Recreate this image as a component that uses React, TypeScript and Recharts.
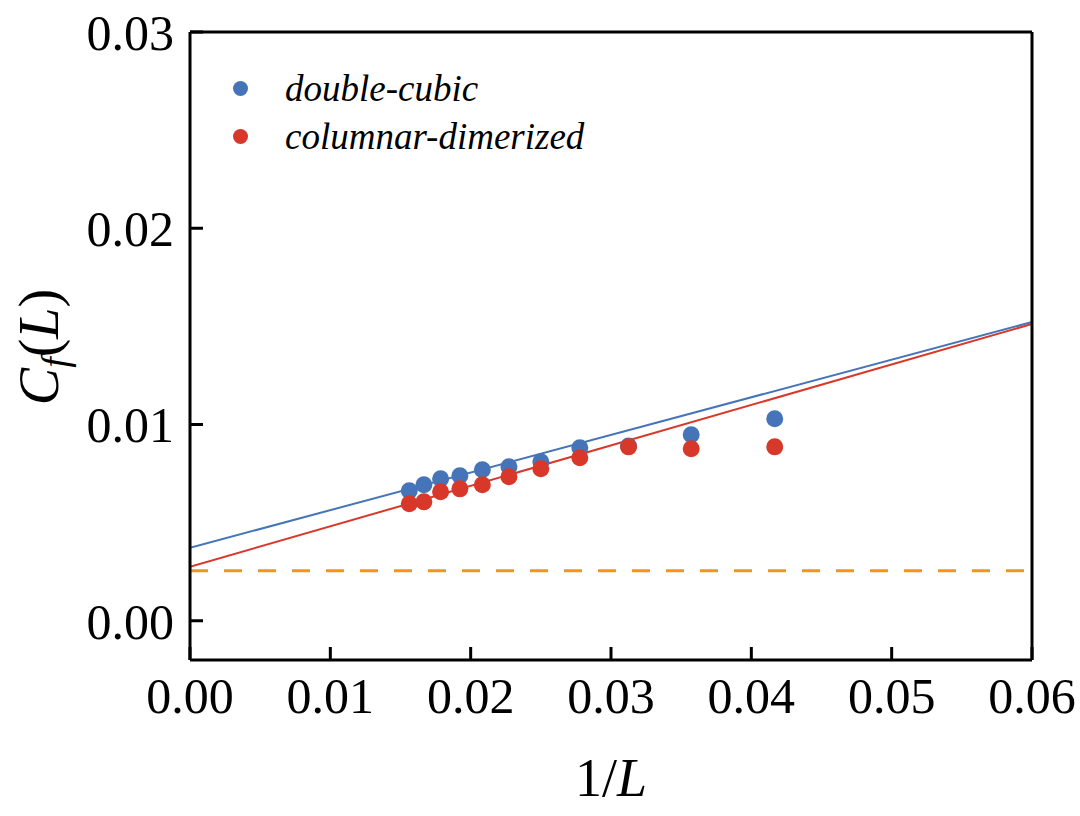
import React from "react";
import {
  ComposedChart,
  Scatter,
  Line,
  XAxis,
  YAxis,
  ReferenceLine,
  Legend,
  Label,
} from "recharts";

// 1/L for L = 64 ... 24
const invL = [0.015625, 0.016667, 0.017857, 0.019231, 0.020833, 0.022727, 0.025, 0.027778, 0.03125, 0.035714, 0.041667];
const doubleCubic = [0.00662, 0.00693, 0.00723, 0.00739, 0.00769, 0.00785, 0.0081, 0.00881, 0.0089, 0.00948, 0.01029];
const columnarDimerized = [0.00596, 0.00606, 0.00657, 0.00672, 0.00693, 0.00734, 0.00774, 0.0083, 0.00886, 0.00876, 0.00886];

// linear fits, values at 1/L = 0 and 1/L = 0.06
const fitX = [0, 0.06];
const fitDoubleCubic = [0.00372, 0.01522];
const fitColumnar = [0.00275, 0.01512];
const limitValue = 0.00255;

const xTicks = [0, 0.01, 0.02, 0.03, 0.04, 0.05, 0.06];
const yTicks = [0, 0.01, 0.02, 0.03];

const BLUE = "#4674b9";
const RED = "#d8382a";
const ORANGE = "#f0961e";
const FONT = "Liberation Serif";

const toPoints = (xs: number[], ys: number[]) => xs.map((x, i) => ({ x, y: ys[i] }));

const blueData = toPoints(invL, doubleCubic);
const redData = toPoints(invL, columnarDimerized);
const blueFit = toPoints(fitX, fitDoubleCubic);
const redFit = toPoints(fitX, fitColumnar);

const dot = (color: string) => (props: any) =>
  <circle cx={props.cx} cy={props.cy} r={8.5} fill={color} />;

const legendItems = [
  { label: "double-cubic", color: BLUE },
  { label: "columnar-dimerized", color: RED },
];

const LegendBox = () => (
  <div style={{ fontFamily: FONT }}>
    {legendItems.map((item) => (
      <div key={item.label} style={{ display: "flex", alignItems: "center", height: 48 }}>
        <span
          style={{
            display: "inline-block",
            width: 15,
            height: 15,
            borderRadius: "50%",
            background: item.color,
            marginRight: 37,
          }}
        />
        <span style={{ fontStyle: "italic", fontSize: 37 }}>{item.label}</span>
      </div>
    ))}
  </div>
);

const tickStyle = { fontFamily: FONT, fontSize: 50, fill: "#000" };
const axisLine = { stroke: "#000", strokeWidth: 3 };
const tickLine = { stroke: "#000", strokeWidth: 3 };

const fmt = (v: number) => v.toFixed(2);

export default function App() {
  return (
    <div style={{ position: "absolute", left: 0, top: 0, background: "#fff" }}>
      <ComposedChart
        width={1080}
        height={816}
        margin={{ top: 22, right: 38, bottom: 26, left: 0 }}
      >
        <XAxis
          xAxisId="bottom"
          dataKey="x"
          type="number"
          domain={[0, 0.06]}
          ticks={xTicks}
          tickFormatter={fmt}
          allowDataOverflow
          height={130}
          axisLine={axisLine}
          tickLine={tickLine}
          tickSize={-13}
          tickMargin={30}
          tick={tickStyle}
        >
          <Label
            content={() => (
              <text x={611} y={796} textAnchor="middle" fontFamily={FONT} fontSize={54} fill="#000">
                1/<tspan fontStyle="italic">L</tspan>
              </text>
            )}
          />
        </XAxis>
        <XAxis
          xAxisId="top"
          orientation="top"
          dataKey="x"
          type="number"
          domain={[0, 0.06]}
          ticks={xTicks}
          allowDataOverflow
          height={10}
          axisLine={axisLine}
          tickLine={tickLine}
          tickSize={-13}
          tick={false}
        />
        <YAxis
          yAxisId="left"
          dataKey="y"
          type="number"
          domain={[-0.002, 0.03]}
          ticks={yTicks}
          tickFormatter={fmt}
          allowDataOverflow
          width={190}
          axisLine={axisLine}
          tickLine={tickLine}
          tickSize={-13}
          tickMargin={29}
          tick={tickStyle}
        >
          <Label
            content={() => (
              <text
                x={0}
                y={0}
                transform="translate(58 347) rotate(-90)"
                textAnchor="middle"
                fontFamily={FONT}
                fontSize={56}
                fill="#000"
              >
                <tspan fontStyle="italic">C</tspan>
                <tspan fontStyle="italic" fontSize={38} dy={10}>f</tspan>
                <tspan dy={-10}>(</tspan>
                <tspan fontStyle="italic">L</tspan>
                <tspan>)</tspan>
              </text>
            )}
          />
        </YAxis>
        <YAxis
          yAxisId="right"
          orientation="right"
          dataKey="y"
          type="number"
          domain={[-0.002, 0.03]}
          ticks={yTicks}
          allowDataOverflow
          width={10}
          axisLine={axisLine}
          tickLine={tickLine}
          tickSize={-13}
          tick={false}
        />
        <ReferenceLine
          xAxisId="bottom"
          yAxisId="left"
          y={limitValue}
          stroke={ORANGE}
          strokeWidth={3}
          strokeDasharray="18 16"
        />
        <Line
          xAxisId="bottom"
          yAxisId="left"
          data={blueFit}
          dataKey="y"
          type="linear"
          stroke={BLUE}
          strokeWidth={2}
          dot={false}
          activeDot={false}
          legendType="none"
          isAnimationActive={false}
        />
        <Line
          xAxisId="bottom"
          yAxisId="left"
          data={redFit}
          dataKey="y"
          type="linear"
          stroke={RED}
          strokeWidth={2}
          dot={false}
          activeDot={false}
          legendType="none"
          isAnimationActive={false}
        />
        <Scatter
          xAxisId="bottom"
          yAxisId="left"
          data={blueData}
          dataKey="y"
          shape={dot(BLUE)}
          isAnimationActive={false}
        />
        <Scatter
          xAxisId="bottom"
          yAxisId="left"
          data={redData}
          dataKey="y"
          shape={dot(RED)}
          isAnimationActive={false}
        />
        <Legend
          content={<LegendBox />}
          layout="vertical"
          verticalAlign="middle"
          align="center"
          wrapperStyle={{ position: "absolute", left: 233, top: 64, width: 400 }}
        />
      </ComposedChart>
    </div>
  );
}
